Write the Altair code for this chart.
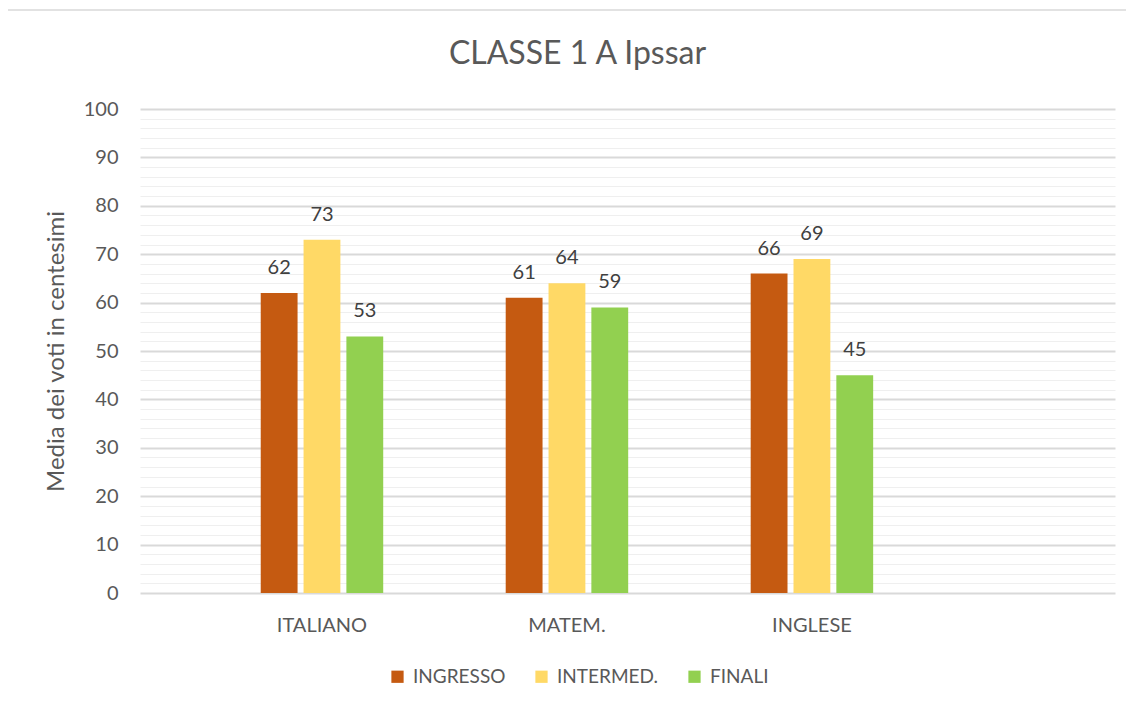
import altair as alt
import pandas as pd

subjects = ["ITALIANO", "MATEM.", "INGLESE"]
series = ["INGRESSO", "INTERMED.", "FINALI"]
ingresso = [62, 61, 66]
intermed = [73, 64, 69]
finali = [53, 59, 45]
colors = ["#C55A11", "#FFD966", "#92D050"]
y_ticks = list(range(0, 101, 2))

rows = []
for i, s in enumerate(subjects):
    for name, vals in zip(series, [ingresso, intermed, finali]):
        rows.append({"materia": s, "serie": name, "valore": vals[i]})
df = pd.DataFrame(rows)

FONT = "Lato"
GREY = "#595959"
W, H = 975, 484

x_enc = alt.X("materia:N", sort=subjects, title=None,
              scale=alt.Scale(paddingInner=0.5, paddingOuter=0.74, align=0.333),
              axis=alt.Axis(labelAngle=0, labelFontSize=20, labelColor=GREY,
                            labelFont=FONT, labelPadding=22, ticks=False, domain=False))
xo_enc = alt.XOffset("serie:N", sort=series,
                     scale=alt.Scale(paddingInner=0.14, paddingOuter=0))
y_enc = alt.Y("valore:Q", scale=alt.Scale(domain=[0, 100], nice=False),
              title="Media dei voti in centesimi",
              axis=alt.Axis(values=y_ticks,
                            labelExpr="datum.value % 10 === 0 ? datum.label : ''",
                            labelOverlap=False,
                            labelFontSize=20, labelColor=GREY, labelFont=FONT,
                            labelPadding=22, ticks=False, domain=False,
                            titleFontSize=24, titleColor=GREY, titleFont=FONT,
                            titleFontWeight="normal", titlePadding=15,
                            grid=True,
                            gridColor=alt.condition("datum.value % 10 === 0",
                                                    alt.value("#d9d9d9"), alt.value("#efefef")),
                            gridWidth=alt.condition("datum.value % 10 === 0",
                                                    alt.value(2), alt.value(1))))

base = alt.Chart(df)

bars = base.mark_bar().encode(
    x=x_enc,
    xOffset=xo_enc,
    y=y_enc,
    color=alt.Color("serie:N", sort=series,
                    scale=alt.Scale(domain=series, range=colors),
                    legend=alt.Legend(title=None, orient="none", direction="horizontal",
                                      legendX=248, legendY=558,
                                      symbolType="square", symbolSize=150,
                                      symbolStrokeWidth=0,
                                      labelFontSize=19, labelColor=GREY, labelFont=FONT,
                                      columnPadding=26, labelOffset=6)),
)

labels = base.mark_text(baseline="bottom", dy=-15, fontSize=20, color="#404040",
                        font=FONT).encode(
    x=x_enc,
    xOffset=xo_enc,
    y=y_enc,
    text="valore:Q",
)

border = alt.Chart(pd.DataFrame({"a": [0]})).mark_rect(
    fill=None, stroke="#d9d9d9", strokeWidth=1.5, clip=False
).encode(x=alt.value(-133), x2=alt.value(1200), y=alt.value(-99), y2=alt.value(800))

chart = alt.layer(border, bars, labels).properties(
    width=W, height=H,
    title=alt.TitleParams("CLASSE 1 A Ipssar", fontSize=32, color=GREY,
                          font=FONT, fontWeight="normal", anchor="middle",
                          dx=-50, offset=-62),
    autosize=alt.AutoSizeParams(type="none"),
    padding={"left": 132, "top": 101, "right": 11, "bottom": 110},
).configure_view(stroke=None)

chart.save("out.html", embed_options={"renderer": "svg", "actions": False})
